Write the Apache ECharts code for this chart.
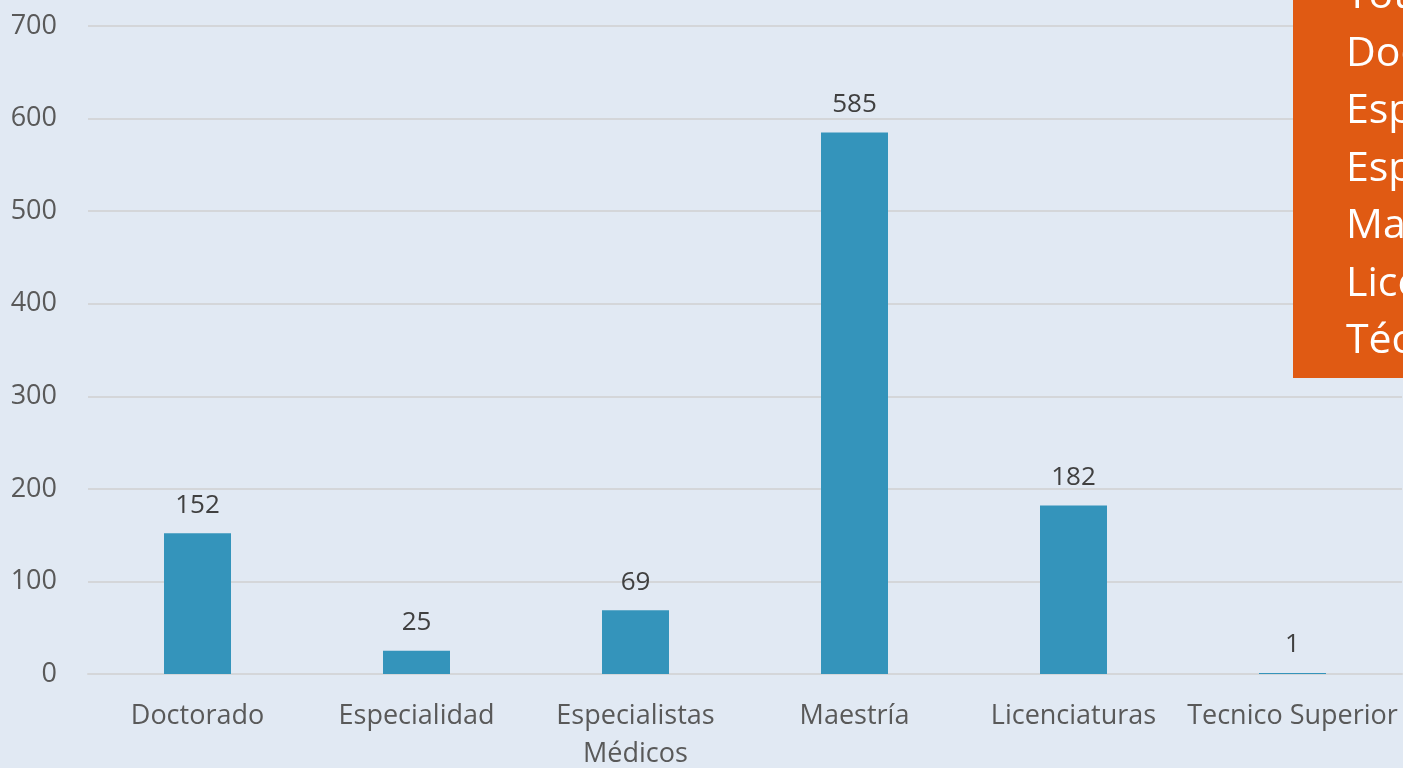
<!DOCTYPE html>
<html>
<head>
<meta charset="utf-8">
<script src="https://cdn.jsdelivr.net/npm/echarts@6/dist/echarts.min.js"></script>
<style>
  html, body { margin: 0; padding: 0; background: #e1e9f3; }
  #chart { width: 1403px; height: 768px; }
</style>
</head>
<body>
<div id="chart"></div>
<script>
const categories = ['Doctorado', 'Especialidad', 'Especialistas\nMédicos', 'Maestría', 'Licenciaturas', 'Tecnico Superior']
const values = [152, 25, 69, 585, 182, 1]
const yTicks = { min: 0, max: 700, interval: 100 }
const boxLines = ['Total: 1014', 'Doctorado: 152', 'Especialidad: 25', 'Especialistas Médicos: 69', 'Maestría: 585', 'Licenciaturas: 182', 'Técnico Superior: 1']

const font = '"Open Sans", "Noto Sans", sans-serif'
const chart = echarts.init(document.getElementById('chart'))

const option = {
    backgroundColor: '#e1e9f3',
    animation: false,
    grid: {
        left: 88,
        right: 1,
        top: 26,
        bottom: 94,
        outerBoundsMode: 'none'
    },
    xAxis: {
        type: 'category',
        data: categories,
        axisLine: { show: true, lineStyle: { color: '#d4d6d9', width: 2 } },
        axisTick: { show: false },
        axisLabel: {
            interval: 0,
            margin: 23,
            color: '#595959',
            fontFamily: font,
            fontSize: 27,
            lineHeight: 38
        }
    },
    yAxis: {
        type: 'value',
        min: yTicks.min,
        max: yTicks.max,
        interval: yTicks.interval,
        axisLine: { show: false },
        axisTick: { show: false },
        splitLine: { lineStyle: { color: '#d4d6d9', width: 2 } },
        axisLabel: {
            margin: 31,
            color: '#595959',
            fontFamily: font,
            fontSize: 27
        }
    },
    series: [
        {
            type: 'bar',
            data: values,
            barWidth: 67,
            itemStyle: { color: '#3494bb' },
            label: {
                show: true,
                position: 'top',
                distance: 15,
                color: '#404040',
                fontFamily: font,
                fontSize: 26
            }
        }
    ],
    graphic: [
        {
            type: 'rect',
            left: 1293,
            top: -10,
            shape: { width: 200, height: 388 },
            style: { fill: '#e05a13' },
            z: 100
        },
        {
            type: 'text',
            x: 1346,
            y: -32,
            style: {
                text: boxLines.join('\n'),
                fill: '#ffffff',
                fontFamily: font,
                fontSize: 41,
                lineHeight: 57.5
            },
            z: 101
        }
    ]
}

chart.setOption(option)
</script>
</body>
</html>
